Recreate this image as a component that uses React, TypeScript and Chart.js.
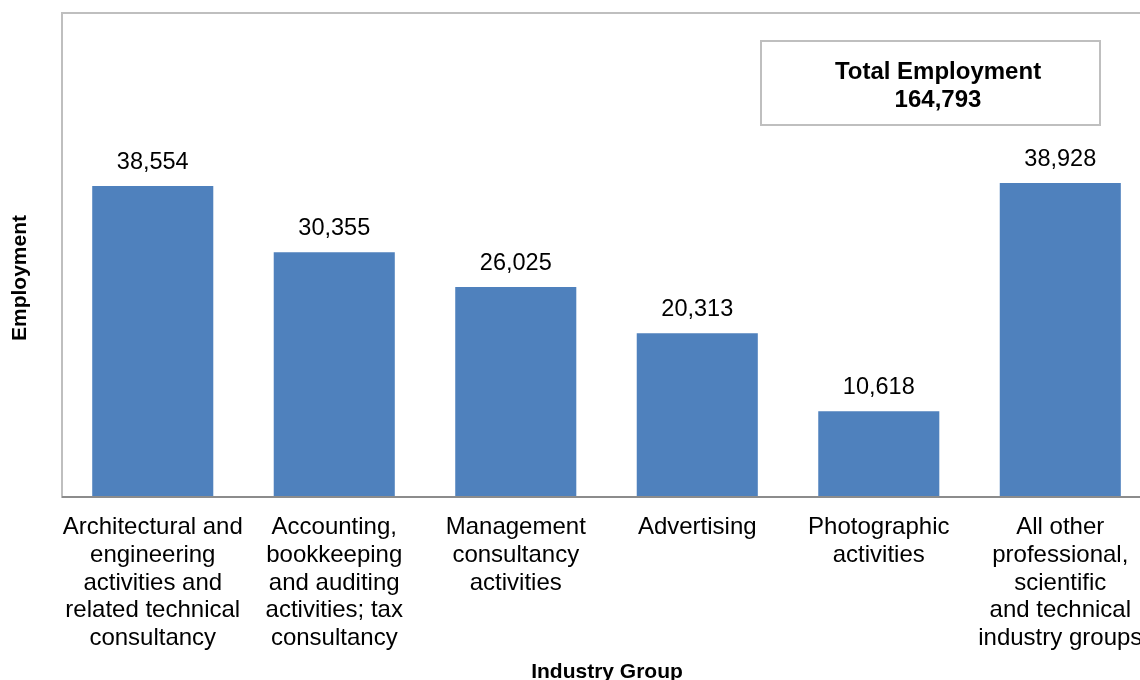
import React, { useEffect, useRef } from "react";
import { Chart, registerables } from "chart.js";

Chart.register(...registerables);

const categories: string[][] = [
  ["Architectural and", "engineering", "activities and", "related technical", "consultancy"],
  ["Accounting,", "bookkeeping", "and auditing", "activities; tax", "consultancy"],
  ["Management", "consultancy", "activities"],
  ["Advertising"],
  ["Photographic", "activities"],
  ["All other", "professional,", "scientific", "and technical", "industry groups"],
];
const employment: number[] = [38554, 30355, 26025, 20313, 10618, 38928];
const totalLabel = "Total Employment";
const totalValue = 164793;
const xTitle = "Industry Group";
const yTitle = "Employment";

const FONT = "'Liberation Sans', Arial, sans-serif";

const fmt = (v: number) => v.toLocaleString("en-US");

const decorPlugin = {
  id: "decor",
  beforeDatasetsDraw(chart: any) {
    const { ctx, chartArea } = chart;
    ctx.save();
    ctx.strokeStyle = "#BFBFBF";
    ctx.lineWidth = 2;
    ctx.strokeRect(chartArea.left, chartArea.top, chartArea.right - chartArea.left, chartArea.bottom - chartArea.top);
    ctx.restore();
  },
  afterDatasetsDraw(chart: any) {
    const { ctx, chartArea } = chart;
    ctx.save();
    // x axis line
    ctx.strokeStyle = "#8C8C8C";
    ctx.lineWidth = 2;
    ctx.beginPath();
    ctx.moveTo(chartArea.left, chartArea.bottom);
    ctx.lineTo(chartArea.right, chartArea.bottom);
    ctx.stroke();

    // data labels
    const meta = chart.getDatasetMeta(0);
    ctx.fillStyle = "#000";
    ctx.font = `23.5px ${FONT}`;
    ctx.textAlign = "center";
    ctx.textBaseline = "alphabetic";
    meta.data.forEach((bar: any, i: number) => {
      ctx.fillText(fmt(employment[i]), bar.x, bar.y - 17);
    });

    // total box
    const bx = 761, by = 41, bw = 339, bh = 84;
    ctx.fillStyle = "#fff";
    ctx.fillRect(bx, by, bw, bh);
    ctx.strokeStyle = "#BFBFBF";
    ctx.lineWidth = 2;
    ctx.strokeRect(bx, by, bw, bh);
    ctx.fillStyle = "#000";
    ctx.font = `bold 24px ${FONT}`;
    ctx.textBaseline = "middle";
    ctx.fillText(totalLabel, 938, 72);
    ctx.fillText(fmt(totalValue), 938, 100);

    // axis titles
    ctx.font = `bold 21px ${FONT}`;
    ctx.fillText(xTitle, 607, 672);
    ctx.translate(20, 278);
    ctx.rotate(-Math.PI / 2);
    ctx.fillText(yTitle, 0, 0);
    ctx.restore();
  },
};

export default function App() {
  const ref = useRef<HTMLCanvasElement>(null);
  useEffect(() => {
    const chart = new Chart(ref.current!, {
      type: "bar",
      data: {
        labels: categories,
        datasets: [
          {
            data: employment,
            backgroundColor: "#4F81BD",
            borderWidth: 0,
            categoryPercentage: 1,
            barPercentage: 0.667,
          },
        ],
      },
      options: {
        animation: false,
        responsive: false,
        maintainAspectRatio: false,
        layout: { padding: { left: 62, top: 13, right: 8, bottom: 0 } },
        plugins: { legend: { display: false }, tooltip: { enabled: false } },
        scales: {
          x: {
            grid: { display: false, drawTicks: false },
            border: { display: false },
            ticks: {
              color: "#000",
              font: { family: FONT, size: 24, lineHeight: 1.15 },
              padding: 17,
              maxRotation: 0,
              autoSkip: false,
            },
            afterFit: (axis: any) => {
              axis.height = 183;
            },
          },
          y: {
            display: false,
            min: 0,
            max: 60000,
          },
        },
      },
      plugins: [decorPlugin],
    });
    return () => chart.destroy();
  }, []);
  return (
    <div style={{ position: "fixed", left: 0, top: 0, width: 1140, height: 680, overflow: "hidden", background: "#fff" }}>
      <canvas ref={ref} width={1160} height={680} style={{ width: 1160, height: 680, display: "block" }} />
    </div>
  );
}
